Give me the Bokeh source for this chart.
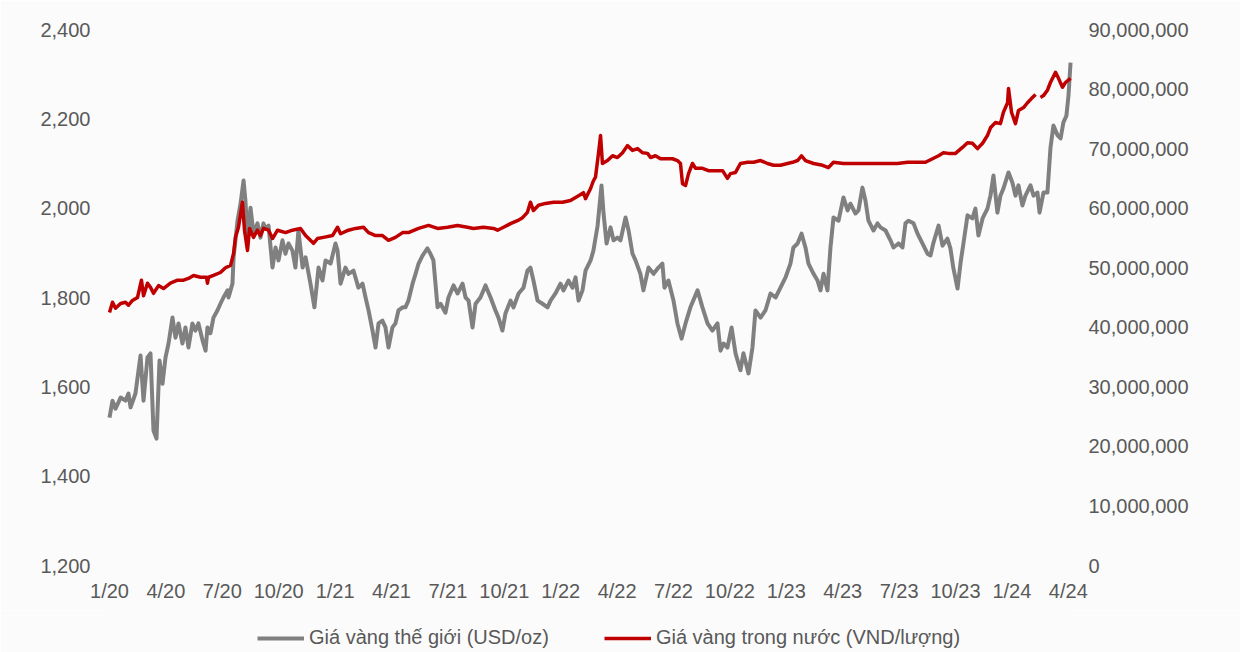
import math
from bokeh.plotting import figure
from bokeh.layouts import column
from bokeh.models import (Range1d, LinearAxis, NumeralTickFormatter, FixedTicker,
                          Legend, LegendItem)
from bokeh.embed import file_html
from bokeh.resources import INLINE

# ---------------- data ----------------
# time expressed in months since January 2020 (0 = 1/2020)
quarter_ticks = [0, 3, 6, 9, 12, 15, 18, 21, 24, 27, 30, 33, 36, 39, 42, 45, 48, 51]
quarter_labels = ["1/20", "4/20", "7/20", "10/20", "1/21", "4/21", "7/21", "10/21",
                  "1/22", "4/22", "7/22", "10/22", "1/23", "4/23", "7/23", "10/23",
                  "1/24", "4/24"]

world_month = [
    0.00, 0.16, 0.32, 0.59, 0.85, 1.01, 1.12, 1.38, 1.65, 1.81, 2.02, 2.18, 2.34, 2.50,
    2.66, 2.82, 2.98, 3.14, 3.35, 3.51, 3.67, 3.88, 4.04, 4.20, 4.41, 4.57, 4.73, 4.95,
    5.11, 5.21, 5.37, 5.53, 5.74, 5.90, 6.06, 6.28, 6.33, 6.54, 6.60, 6.81, 6.97, 7.13,
    7.23, 7.34, 7.50, 7.66, 7.87, 8.03, 8.19, 8.30, 8.46, 8.67, 8.83, 8.99, 9.20, 9.36,
    9.52, 9.73, 9.89, 10.05, 10.27, 10.43, 10.69, 10.90, 11.12, 11.33, 11.49, 11.76,
    12.02, 12.13, 12.29, 12.55, 12.71, 12.98, 13.24, 13.46, 13.62, 13.78, 13.99, 14.15,
    14.31, 14.52, 14.68, 14.84, 15.05, 15.21, 15.37, 15.59, 15.74, 15.90, 16.12, 16.28,
    16.44, 16.65, 16.91, 17.07, 17.23, 17.45, 17.61, 17.87, 18.03, 18.30, 18.51, 18.78,
    18.94, 19.10, 19.31, 19.47, 19.73, 20.00, 20.27, 20.53, 20.69, 20.90, 21.06, 21.33,
    21.49, 21.76, 22.02, 22.23, 22.39, 22.55, 22.77, 23.03, 23.30, 23.46, 23.72, 23.99,
    24.15, 24.41, 24.63, 24.79, 24.95, 25.16, 25.32, 25.59, 25.74, 25.96, 26.17, 26.28,
    26.44, 26.65, 26.81, 27.02, 27.18, 27.45, 27.61, 27.82, 27.98, 28.24, 28.40, 28.67,
    28.94, 29.20, 29.41, 29.52, 29.73, 30.00, 30.21, 30.43, 30.64, 30.90, 31.28, 31.54,
    31.81, 32.07, 32.34, 32.50, 32.66, 32.87, 33.09, 33.30, 33.56, 33.72, 33.99, 34.20,
    34.36, 34.63, 34.89, 35.16, 35.43, 35.69, 35.96, 36.22, 36.38, 36.60, 36.81, 37.02,
    37.18, 37.45, 37.66, 37.82, 37.98, 38.19, 38.35, 38.51, 38.78, 39.04, 39.26, 39.41,
    39.68, 39.84, 40.05, 40.21, 40.37, 40.64, 40.85, 41.01, 41.28, 41.54, 41.70, 41.97,
    42.18, 42.34, 42.50, 42.77, 42.98, 43.24, 43.51, 43.67, 43.83, 44.10, 44.31, 44.57,
    44.73, 44.89, 45.11, 45.27, 45.43, 45.64, 45.90, 46.06, 46.22, 46.44, 46.70, 46.86,
    47.02, 47.23, 47.39, 47.55, 47.82, 48.03, 48.19, 48.35, 48.56, 48.72, 48.99, 49.15,
    49.36, 49.47, 49.68, 49.89, 50.05, 50.21, 50.43, 50.59, 50.74, 50.90, 51.01, 51.12,
]
world_price_usd = [
    1531, 1569, 1551, 1576, 1569, 1585, 1554, 1585, 1670, 1569, 1666, 1675, 1502, 1484,
    1659, 1607, 1666, 1697, 1755, 1710, 1742, 1697, 1733, 1688, 1742, 1726, 1742, 1704,
    1681, 1733, 1720, 1755, 1771, 1786, 1800, 1816, 1800, 1831, 1890, 1972, 2010, 2062,
    2017, 1934, 2001, 1943, 1966, 1934, 1966, 1954, 1961, 1867, 1912, 1883, 1928, 1898,
    1921, 1905, 1867, 1950, 1867, 1890, 1831, 1778, 1867, 1838, 1883, 1876,
    1921, 1905, 1831, 1867, 1853, 1860, 1822, 1831, 1800, 1771, 1726, 1688,
    1742, 1748, 1733, 1688, 1733, 1742, 1771, 1778, 1778, 1793, 1831, 1853,
    1876, 1894, 1910, 1898, 1883, 1778, 1786, 1766, 1800, 1827, 1809, 1831,
    1800, 1793, 1733, 1786, 1800, 1827, 1800, 1771, 1755, 1726, 1764, 1793,
    1778, 1809, 1822, 1860, 1867, 1838, 1793, 1786, 1778, 1793, 1809, 1831,
    1816, 1838, 1822, 1845, 1793, 1816, 1860, 1883, 1905, 1960, 2051, 1988,
    1921, 1957, 1928, 1934, 1928, 1979, 1950, 1898, 1883, 1853, 1816, 1867,
    1853, 1867, 1876, 1822, 1838, 1793, 1742, 1708, 1742, 1778, 1816, 1778,
    1742, 1726, 1742, 1681, 1697, 1688, 1733, 1675, 1637, 1675, 1630, 1688,
    1771, 1755, 1771, 1809, 1800, 1822, 1845, 1876, 1912, 1921, 1943, 1912,
    1876, 1853, 1838, 1816, 1853, 1816, 1912, 1979, 1972, 2024, 1995, 2010,
    1988, 1995, 2046, 2017, 1972, 1950, 1966, 1957, 1950, 1928, 1912, 1921,
    1912, 1966, 1972, 1966, 1943, 1921, 1898, 1894, 1923, 1961, 1916, 1932,
    1910, 1865, 1820, 1878, 1923, 1984, 1977, 1999, 1939, 1977, 1999, 2028,
    2073, 1990, 2028, 2044, 2080, 2057, 2028, 2051, 2006, 2028, 2051, 2028,
    2035, 1990, 2035, 2035, 2134, 2185, 2163, 2156, 2192, 2207, 2252, 2326,
]

domestic_month = [
    0.00, 0.16, 0.32, 0.59, 0.85, 1.01, 1.22, 1.49, 1.70, 1.81, 2.02, 2.18, 2.34, 2.61,
    2.87, 3.24, 3.62, 3.94, 4.20, 4.47, 4.84, 5.16, 5.21, 5.27, 5.53, 5.90, 6.17, 6.44,
    6.60, 6.70, 6.86, 7.07, 7.18, 7.34, 7.45, 7.66, 7.87, 8.03, 8.19, 8.46, 8.67, 8.94,
    9.36, 9.73, 10.16, 10.43, 10.85, 11.06, 11.38, 11.86, 12.13, 12.29, 12.71, 13.09,
    13.51, 13.78, 14.15, 14.52, 14.84, 15.21, 15.59, 15.90, 16.44, 16.97, 17.45, 17.98,
    18.51, 19.04, 19.36, 19.89, 20.43, 20.64, 20.96, 21.33, 21.70, 21.97, 22.23, 22.39,
    22.55, 22.82, 23.19, 23.62, 24.10, 24.52, 24.79, 24.95, 25.21, 25.32, 25.59, 25.74,
    25.85, 26.01, 26.12, 26.22, 26.49, 26.76, 27.02, 27.29, 27.55, 27.82, 28.09, 28.35,
    28.62, 28.78, 29.04, 29.31, 29.68, 29.95, 30.21, 30.37, 30.48, 30.64, 30.80, 31.01,
    31.17, 31.54, 31.86, 32.23, 32.61, 32.87, 33.03, 33.30, 33.56, 33.94, 34.26, 34.63,
    35.00, 35.32, 35.69, 36.06, 36.33, 36.60, 36.81, 37.02, 37.45, 37.93, 38.24, 38.51,
    39.04, 39.79, 40.48, 41.17, 41.91, 42.45, 42.98, 43.40, 43.78, 44.10, 44.36, 44.63,
    45.00, 45.37, 45.64, 45.90, 46.17, 46.44, 46.70, 46.86, 47.13, 47.39, 47.55, 47.77,
    47.82, 47.98, 48.19, 48.35, 48.62, 48.83, 49.04, 49.26, 49.39, 49.52, 49.68, 49.89,
    50.05, 50.32, 50.48, 50.69, 50.85, 51.12,
]
# million VND per lượng (nan = no quotation)
domestic_price_mvnd = [
    42.5, 44.2, 43.2, 44.0, 44.2, 43.7, 44.5, 45.0, 47.9, 45.3, 47.4, 46.7, 45.7, 47.0,
    46.5, 47.4, 47.9, 47.9, 48.2, 48.7, 48.4, 48.4, 47.4, 48.4, 48.7, 49.2, 50.0, 50.4,
    52.4, 55.1, 56.8, 61.0, 56.3, 52.9, 56.6, 55.1, 56.3, 55.4, 56.6, 56.3, 54.9, 56.3,
    55.9, 56.3, 56.6, 55.4, 54.1, 54.9, 55.1, 55.4, 56.8, 55.7, 56.3, 56.6,
    56.8, 55.9, 55.4, 55.4, 54.6, 55.1, 55.9, 55.9, 56.6, 57.1, 56.6, 56.8,
    57.1, 56.8, 56.6, 56.8, 56.6, 56.3, 56.8, 57.4, 57.9, 58.4, 59.3, 61.0,
    59.6, 60.5, 60.8, 61.0, 61.0, 61.3, 61.8, 62.1, 62.6, 61.6, 63.3, 64.6,
    65.2, 69.2, 72.2, 67.5, 68.0, 68.8, 68.5, 69.3, 70.5, 69.7, 70.0, 69.3,
    69.2, 68.5, 68.8, 68.3, 68.3, 68.3, 68.0, 67.5, 64.1, 63.8, 65.8, 67.5,
    66.7, 66.7, 66.3, 66.3, 66.3, 65.0, 65.8, 66.0, 67.5, 67.7, 67.7, 68.0,
    67.5, 67.2, 67.2, 67.5, 67.7, 68.0, 68.8, 68.0, 67.5, 67.2, 66.8, 67.7,
    67.5, 67.5, 67.5, 67.5, 67.5, 67.7, 67.7, 67.7, 68.3, 68.8, 69.3, 69.2,
    69.2, 70.2, 71.0, 70.9, 70.0, 70.9, 72.2, 73.5, 74.4, 74.2, 76.1, 77.7,
    80.1, 76.1, 74.2, 76.4, 76.9, 77.7, 78.4, 79.1, float("nan"), 78.6, 78.9, 79.8,
    81.1, 82.8, 81.8, 80.3, 81.1, 81.8,
]

left_ticks = [1200, 1400, 1600, 1800, 2000, 2200, 2400]
right_ticks = [0, 10_000_000, 20_000_000, 30_000_000, 40_000_000, 50_000_000,
               60_000_000, 70_000_000, 80_000_000, 90_000_000]

series_names = ["Giá vàng thế giới (USD/oz)", "Giá vàng trong nước (VND/lượng)"]

# ---------------- styles ----------------
FONT = "Liberation Sans"
TXT = "#595959"
BG = "#fbfbfb"
GRAY = "#808080"
RED = "#C00000"
GRAY_W = 4
RED_W = 3.5

# ---------------- main chart ----------------
p = figure(width=1240, height=610, output_backend="svg", toolbar_location=None,
           x_range=Range1d(-0.479, 51.543), y_range=Range1d(1200, 2400),
           min_border_left=100, min_border_right=162, min_border_top=29,
           min_border_bottom=45)
p.extra_y_ranges = {"vnd": Range1d(0, 90_000_000)}
p.background_fill_color = BG
p.border_fill_color = BG
p.outline_line_color = None
p.xgrid.visible = False
p.ygrid.visible = False

p.line(world_month, world_price_usd, line_color=GRAY, line_width=GRAY_W,
       line_join="round")
p.line(domestic_month, [v * 1_000_000 for v in domestic_price_mvnd],
       y_range_name="vnd", line_color=RED, line_width=RED_W, line_join="round")

right_axis = LinearAxis(y_range_name="vnd")
p.add_layout(right_axis, "right")

for ax in [p.xaxis[0], p.yaxis[0], right_axis]:
    ax.axis_line_color = None
    ax.major_tick_line_color = None
    ax.minor_tick_line_color = None
    ax.major_tick_out = 0
    ax.major_tick_in = 0
    ax.major_label_text_font = FONT
    ax.major_label_text_font_size = "20px"
    ax.major_label_text_color = TXT

p.xaxis[0].ticker = FixedTicker(ticks=quarter_ticks)
p.xaxis[0].major_label_overrides = {t: lab for t, lab in zip(quarter_ticks, quarter_labels)}
p.xaxis[0].major_label_standoff = 14

p.yaxis[0].ticker = FixedTicker(ticks=left_ticks)
p.yaxis[0].formatter = NumeralTickFormatter(format="0,0")
p.yaxis[0].major_label_standoff = 10

right_axis.ticker = FixedTicker(ticks=right_ticks)
right_axis.formatter = NumeralTickFormatter(format="0,0")
right_axis.major_label_standoff = 10

# ---------------- legend strip ----------------
lg = figure(width=1240, height=42, output_backend="svg", toolbar_location=None,
            x_range=Range1d(0, 1), y_range=Range1d(0, 1),
            x_axis_location=None, y_axis_location=None,
            min_border_left=0, min_border_right=0, min_border_top=0,
            min_border_bottom=0)
lg.background_fill_color = BG
lg.border_fill_color = BG
lg.outline_line_color = None
lg.xgrid.visible = False
lg.ygrid.visible = False
# placeholder renderers (no visible points) that only carry the legend styling
lg_world = lg.line([0], [float("nan")], line_color=GRAY, line_width=GRAY_W)
lg_dom = lg.line([0], [float("nan")], line_color=RED, line_width=RED_W)

legend = Legend(items=[LegendItem(label=series_names[0], renderers=[lg_world]),
                       LegendItem(label=series_names[1], renderers=[lg_dom])],
                orientation="horizontal", location=(157, 3),
                glyph_width=47, glyph_height=20, label_standoff=5, spacing=55,
                padding=6, margin=0, border_line_color=None,
                background_fill_alpha=0,
                label_text_font=FONT, label_text_font_size="20px",
                label_text_color=TXT)
lg.add_layout(legend, "center")

layout = column(p, lg, spacing=0)
open("out.html", "w").write(file_html(layout, INLINE))
